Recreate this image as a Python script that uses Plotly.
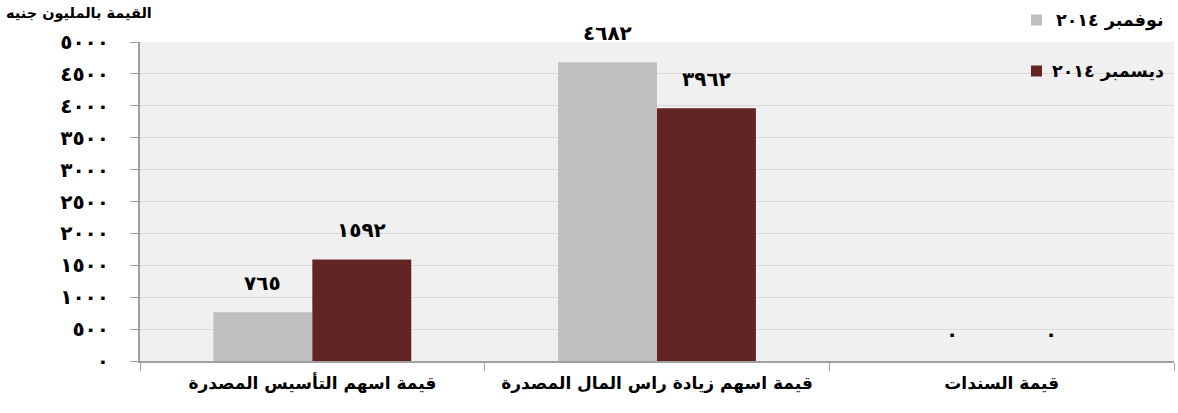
import plotly.graph_objects as go

# Issued values (million EGP) by instrument, Nov vs Dec 2014
categories = ["قيمة اسهم التأسيس المصدرة", "قيمة اسهم زيادة راس المال المصدرة", "قيمة السندات"]
series_names = ["نوفمبر ٢٠١٤", "ديسمبر ٢٠١٤"]
nov_values = [765, 4682, 0]
dec_values = [1592, 3962, 0]
y_tick_values = [0, 500, 1000, 1500, 2000, 2500, 3000, 3500, 4000, 4500, 5000]
y_axis_title = "القيمة بالمليون جنيه"

colors = ["#BFBFBF", "#632523"]
FONT = "DejaVu Sans"

AR_DIGITS = str.maketrans("0123456789", "٠١٢٣٤٥٦٧٨٩")


def ar(n):
    return str(n).translate(AR_DIGITS)


# page geometry (pixels)
W, H = 1178, 413
L, R, T, B = 140, 4, 42, 52
PW, PH = W - L - R, H - T - B


def px_x(x):
    return (x - L) / PW


def px_y(y):
    return (H - B - y) / PH


BARGAP = 0.426
bar_w = (1 - BARGAP) / 2

fig = go.Figure()
for name, vals, col in zip(series_names, [nov_values, dec_values], colors):
    fig.add_trace(go.Bar(
        x=categories, y=vals, name=name, marker_color=col,
        marker_line_width=0, showlegend=False,
    ))

# value labels above each bar
annotations = []
for s, vals in enumerate([nov_values, dec_values]):
    offset = (s - 0.5) * bar_w
    for i, v in enumerate(vals):
        annotations.append(dict(
            x=i + offset, y=v, xref="x", yref="y", text=ar(v),
            showarrow=False, yanchor="middle", yshift=29 if v > 0 else 27,
            font=dict(family=FONT, size=20, color="#000000", weight="bold"),
        ))

# axis title
annotations.append(dict(
    x=px_x(4), y=px_y(3), xref="paper", yref="paper", xanchor="left", yanchor="top",
    text=y_axis_title, showarrow=False,
    font=dict(family=FONT, size=14.5, color="#000000", weight="bold"),
))

# legend: text with square swatch on its right
shapes = []
legend_y = [20, 71]
for name, col, ypx in zip(series_names, colors, legend_y):
    annotations.append(dict(
        x=px_x(1166), y=px_y(ypx), xref="paper", yref="paper", xanchor="right",
        yanchor="middle", text=name, showarrow=False,
        font=dict(family=FONT, size=17.5, color="#000000", weight="bold"),
    ))
    shapes.append(dict(
        type="rect", xref="paper", yref="paper",
        x0=px_x(1031), x1=px_x(1042),
        y0=px_y(ypx + 5.5), y1=px_y(ypx - 5.5),
        fillcolor=col, line_width=0,
    ))

fig.update_layout(
    width=W, height=H,
    margin=dict(l=L, r=R, t=T, b=B),
    paper_bgcolor="#FFFFFF",
    plot_bgcolor="#F0F0F0",
    barmode="group", bargap=BARGAP, bargroupgap=0,
    font=dict(family=FONT, size=14, color="#000000"),
    annotations=annotations,
    shapes=shapes,
    showlegend=False,
)

fig.update_xaxes(
    type="category",
    tickson="boundaries", ticks="outside", ticklen=8, tickcolor="#A0A0A0",
    showline=True, linecolor="#A0A0A0", linewidth=2,
    showgrid=False,
    ticklabelstandoff=6,
    tickfont=dict(family=FONT, size=17, color="#000000", weight="bold"),
    range=[-0.5, 2.5],
)

fig.update_yaxes(
    range=[0, 5000],
    tickvals=y_tick_values,
    ticktext=[ar(v) for v in y_tick_values],
    ticks="outside", ticklen=8, tickcolor="#A0A0A0",
    showline=True, linecolor="#A0A0A0", linewidth=2,
    gridcolor="#D9D9D9", gridwidth=1,
    zeroline=False,
    ticklabelstandoff=17,
    tickfont=dict(family=FONT, size=20, color="#000000", weight="bold"),
)

fig.write_html("out.html")
